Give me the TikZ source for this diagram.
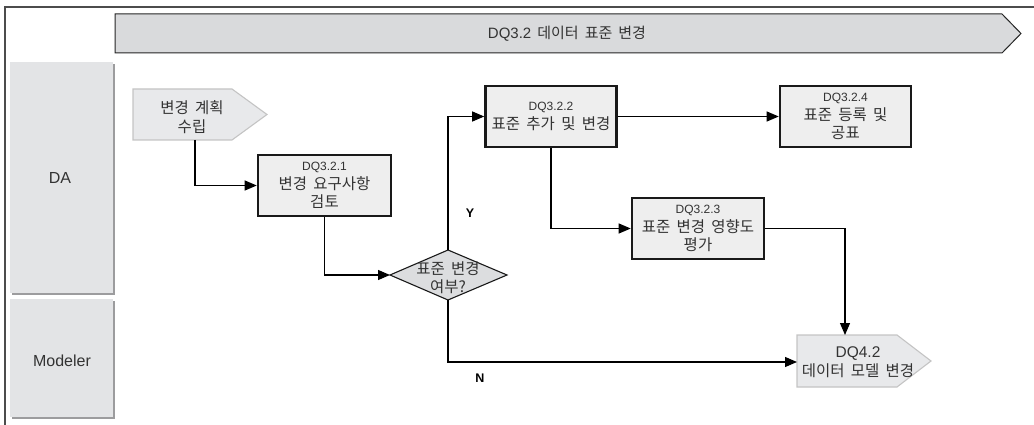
\documentclass[tikz,border=0pt]{standalone}
\usepackage{fontspec}
\setmainfont{Noto Sans CJK KR}[WordSpace=1.8]
\newfontfamily\latf{Liberation Sans}
\usetikzlibrary{arrows.meta}
\definecolor{txt}{HTML}{333333}
\definecolor{boxfill}{HTML}{EEEEEE}
\definecolor{lanefill}{HTML}{E3E4E6}
\definecolor{laneshadow}{HTML}{9C9C9E}
\definecolor{bannerfill}{HTML}{D9DADC}
\definecolor{offfill}{HTML}{E8E9EB}
\definecolor{offdraw}{HTML}{C4C4C4}
\definecolor{diafill}{HTML}{DCDDDF}
\newcommand{\dqlab}[1]{{\latf\fontsize{12}{18.5}\selectfont #1}}
\tikzset{
  proc/.style={draw=black!90, line width=2.6pt, fill=boxfill, minimum height=61pt,
    align=center, inner sep=1pt, text=txt, font=\fontsize{15.5}{18.5}\selectfont},
  conn/.style={draw=black, line width=1.1pt, -{Triangle[length=12pt,width=10pt]}},
  lbl/.style={text=txt, align=center, inner sep=0pt, font=\fontsize{15.5}{18.5}\selectfont},
  yn/.style={text=black, inner sep=0pt, font=\latf\bfseries\fontsize{12.5}{14}\selectfont}
}
\begin{document}
\begin{tikzpicture}[x=1pt,y=-1pt]
\useasboundingbox (0,0) rectangle (1034,425);
% outer frame
\draw[draw=black!70, line width=1.3pt] (5,425) -- (5,7) -- (1034,7);
% header banner
\draw[draw=black!85, line width=1pt, fill=bannerfill] (115,14) -- (1002,14) -- (1021,33.5) -- (1002,53) -- (115,53) -- cycle;
\node[lbl, font=\fontsize{15}{17}\selectfont] (title) at (567,34) {{\latf DQ3.2} 데이터 표준 변경};
% lanes
\fill[laneshadow] (12,64) rectangle (115,295);
\fill[lanefill] (10,62) rectangle (113,293);
\node[lbl, font=\latf\fontsize{16}{18}\selectfont] (da) at (60,178) {DA};
\fill[laneshadow] (12,301) rectangle (115,419);
\fill[lanefill] (10,299) rectangle (113,417);
\node[lbl, font=\latf\fontsize{16}{18}\selectfont] (modeler) at (62,361) {Modeler};
% start off-page shape
\draw[draw=offdraw, line width=1.1pt, fill=offfill] (133,89) -- (232,89) -- (267,114.5) -- (232,140) -- (133,140) -- cycle;
\node[lbl] (start) at (192,117) {변경 계획\\수립};
\coordinate (startb) at (195,140);
% process boxes
\node[proc, minimum width=133pt] (p1) at (324.5,185.5) {\dqlab{DQ3.2.1}\\변경 요구사항\\검토};
\node[proc, minimum width=131pt] (p2) at (551,116.5) {\dqlab{DQ3.2.2}\\표준 추가 및 변경};
\node[proc, minimum width=131pt] (p4) at (845.5,116.5) {\dqlab{DQ3.2.4}\\표준 등록 및\\공표};
\node[proc, minimum width=132pt] (p3) at (698,228.5) {\dqlab{DQ3.2.3}\\표준 변경 영향도\\평가};
% decision diamond
\coordinate (dl) at (390,275);
\coordinate (dt) at (448,250);
\coordinate (dr) at (507,275);
\coordinate (db) at (448,300);
\draw[draw=black!90, line width=1.1pt, fill=diafill] (dl) -- (dt) -- (dr) -- (db) -- cycle;
\node[lbl] (dec) at (448,277.5) {표준 변경\\여부?};
% end off-page shape
\draw[draw=offdraw, line width=1.1pt, fill=offfill] (797,335) -- (897,335) -- (931,361) -- (897,387) -- (797,387) -- cycle;
\node[lbl] (end) at (858,362) {{\latf DQ4.2}\\데이터 모델 변경};
\coordinate (endl) at (797,362);
\coordinate (endt) at (845,335);
% connectors
\draw[conn] (startb) |- (p1.west);
\draw[conn] (p1.south) |- (dl);
\draw[conn] (dt) |- (p2.west);
\draw[conn] (p2.east) -- (p4.west);
\draw[conn] (p2.south) |- (p3.west);
\draw[conn] (p3.east) -| (endt);
\draw[conn] (db) |- (endl);
% labels
\node[yn] (ylab) at (470,213) {Y};
\node[yn] (nlab) at (480,378) {N};
\end{tikzpicture}
\end{document}
